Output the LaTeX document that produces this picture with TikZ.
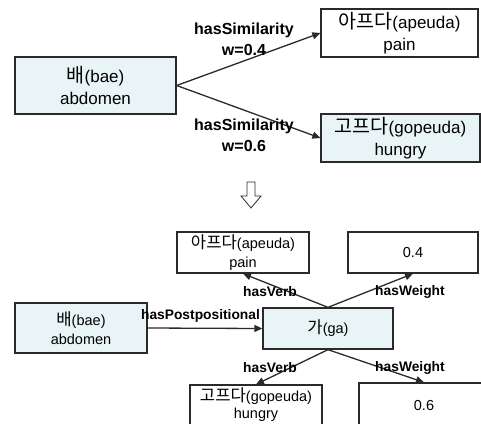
\documentclass[tikz,border=0pt]{standalone}
\usepackage{fontspec}
\setmainfont{Liberation Sans}
\newfontfamily\kr[Scale=1.15]{Noto Sans CJK KR}
\usetikzlibrary{arrows.meta}
\definecolor{boxblue}{HTML}{E8F4F5}
\definecolor{edge}{HTML}{2A2A2A}
\tikzset{
  box/.style={draw=edge, line width=1.3pt, inner sep=0pt, align=center, text=black},
  bigbox/.style={box, font=\fontsize{17}{22.5}\selectfont},
  smallbox/.style={box, font=\fontsize{14.5}{19}\selectfont},
  tightbox/.style={box, font=\fontsize{14.5}{17}\selectfont},
  blue/.style={fill=boxblue},
  conn/.style={draw=edge, line width=1.3pt, -{Triangle[length=8pt,width=7pt]}},
  biglab/.style={font=\bfseries\fontsize{16}{21}\selectfont, align=center, inner sep=0pt},
  smalllab/.style={font=\bfseries\fontsize{13.8}{16}\selectfont, inner sep=0pt},
}
\begin{document}
\begin{tikzpicture}[x=1pt,y=-1pt]
\useasboundingbox (0,0) rectangle (481,423);
\begin{scope}
\clip (0,0) rectangle (481,423);
% top section
\node[bigbox, blue, minimum width=161pt, minimum height=57pt] (bae) at (95.5,85.5) {{\kr 배}(bae)\\abdomen};
\node[bigbox, minimum width=157pt, minimum height=48pt] (apeuda) at (399.5,33) {{\kr 아프다}(apeuda)\\pain};
\node[bigbox, blue, minimum width=159pt, minimum height=48pt] (gopeuda) at (400.5,138) {{\kr 고프다}(gopeuda)\\hungry};
\draw[conn] (bae.east) -- (apeuda.west);
\draw[conn] (bae.east) -- (gopeuda.west);
\node[biglab] (l1) at (244,39.5) {hasSimilarity\\w=0.4};
\node[biglab] (l2) at (244,135) {hasSimilarity\\w=0.6};
% transform arrow
\draw[draw=edge, line width=0.8pt, fill=white] (247,182) -- (255,182) -- (255,196) -- (261,196) -- (251,208) -- (241,196) -- (247,196) -- cycle;
% bottom section
\node[smallbox, blue, minimum width=132pt, minimum height=50pt] (bae2) at (81,328) {{\kr 배}(bae)\\abdomen};
\node[smallbox, blue, minimum width=130pt, minimum height=41pt] (ga) at (328,328.5) {{\kr 가}(ga)};
\node[smallbox, minimum width=132pt, minimum height=41pt] (apeuda2) at (243,252.5) {{\kr 아프다}(apeuda)\\pain};
\node[smallbox, minimum width=130pt, minimum height=41pt] (w04) at (413,252.5) {0.4};
\node[tightbox, minimum width=132pt, minimum height=40pt] (gopeuda2) at (256,405) {{\kr 고프다}(gopeuda)\\hungry};
\node[smallbox, minimum width=130pt, minimum height=46pt] (w06) at (424,406) {0.6};
\draw[conn] (bae2.east) -- (ga.west);
\draw[conn] (ga.north) -- (apeuda2.south);
\draw[conn] (ga.north) -- (w04.south);
\draw[conn] (ga.south) -- (gopeuda2.north);
\draw[conn] (ga.south) -- (w06.north);
\node[smalllab] (lp) at (200.5,316) {hasPostpositional};
\node[smalllab] (lv1) at (270,292) {hasVerb};
\node[smalllab] (lw1) at (410,292) {hasWeight};
\node[smalllab] (lv2) at (270,368) {hasVerb};
\node[smalllab] (lw2) at (410,368) {hasWeight};
\end{scope}
\end{tikzpicture}
\end{document}
